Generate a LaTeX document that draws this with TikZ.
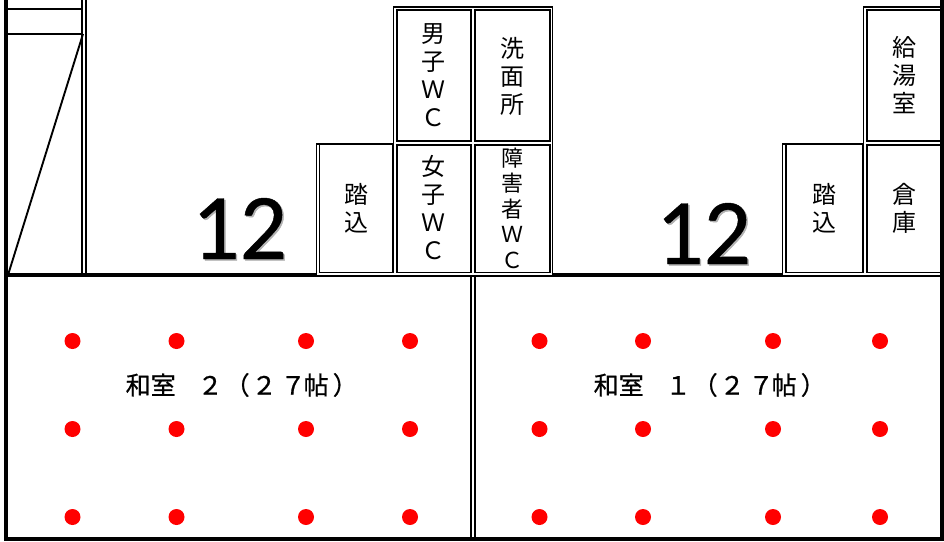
\documentclass[tikz,border=0pt]{standalone}
\usepackage{fontspec}
\setmainfont{Noto Sans CJK JP}
\newfontfamily\numfont[FakeBold=0.5]{Carlito}
\newfontfamily\roomfont[FakeBold=0.7]{Noto Sans CJK JP}
\newcommand{\roomtext}[1]{和室\kern22pt #1\kern2pt （\kern2pt ２\kern4pt ７\kern-2pt 帖\kern4pt ）}
\tikzset{
  x=1pt,y=-1pt,
  wall/.style={draw=black,line width=3.8pt},
  thin wall/.style={draw=black,line width=1.7pt},
  stair/.style={draw=black,line width=1.9pt},
  column/.style={circle,fill=red,inner sep=0pt,minimum size=16pt},
  vlabel/.style={align=center,inner sep=0pt,font=\fontsize{24}{28}\selectfont},
  roomlabel/.style={inner sep=0pt,anchor=west,font=\roomfont\fontsize{25}{28}\selectfont},
  bignum/.style={inner sep=0pt,font=\numfont\fontsize{94}{94}\selectfont},
}
\begin{document}
\begin{tikzpicture}
\useasboundingbox (0,0) rectangle (944,541);
\fill[white] (0,0) rectangle (944,541);
% outer walls
\draw[wall] (5.7,0) -- (5.7,539.2) -- (942.3,539.2) -- (942.3,0);
\draw[wall] (6,275) -- (316,275);
\draw[wall] (553,275) -- (782,275);
% stairs
\draw[thin wall] (82,0) -- (82,275);
\draw[thin wall] (86,0) -- (86,275);
\draw[stair] (7,9) -- (82,9);
\draw[stair] (7,34) -- (82,34);
\draw[stair] (8,275) -- (83,34);
% middle wall
\draw[thin wall] (471.3,276) -- (471.3,538);
\draw[thin wall] (475.3,276) -- (475.3,538);
% central block outer
\draw[thin wall] (316.5,276) -- (316.5,144) -- (393.5,144) -- (393.5,7) -- (552.5,7) -- (552.5,276) -- cycle;
% central block inner
\draw[thin wall] (319.5,144) rectangle (392.7,272.4);
\draw[thin wall] (396.9,10) rectangle (471.1,141.2);
\draw[thin wall] (475,10) rectangle (549.7,141.2);
\draw[thin wall] (396.9,144.9) rectangle (471.1,272.4);
\draw[thin wall] (475,144.9) rectangle (549.7,272.4);
% right block
\draw[thin wall] (941,276) -- (782.5,276) -- (782.5,144) -- (863.5,144) -- (863.5,7) -- (941,7);
\draw[thin wall] (785.7,144) rectangle (863.3,272.4);
\draw[thin wall] (941,10) -- (867,10) -- (867,141.2) -- (941,141.2);
\draw[thin wall] (941,144.9) -- (867,144.9) -- (867,272.4) -- (941,272.4);
% columns
\foreach \y [count=\j] in {341,429,517}{
  \foreach \x [count=\i] in {72.5,176.5,306,410,539.5,643,773,880}{
    \node[column] (c\i-\j) at (\x,\y) {};
  }
}
% labels
\node[vlabel] (mwc) at (433.5,75) {男\\子\\Ｗ\\Ｃ};
\node[vlabel] (wash) at (512,76) {洗\\面\\所};
\node[vlabel] (fwc) at (433.5,208) {女\\子\\Ｗ\\Ｃ};
\node[vlabel,font=\fontsize{22}{25.5}\selectfont] (dwc) at (512,208) {障\\害\\者\\Ｗ\\Ｃ};
\node[vlabel] (en2) at (356,208) {踏\\込};
\node[vlabel] (en1) at (824,208) {踏\\込};
\node[vlabel] (kyu) at (904,75) {給\\湯\\室};
\node[vlabel] (sou) at (904,208) {倉\\庫};
\node[roomlabel] (r2) at (125.5,385) {\roomtext{２}};
\node[roomlabel] (r1) at (593.5,385) {\roomtext{１}};
% twelve with soft shadow
\node[bignum,text=black!30] (s2) at (241,230) {12};
\node[bignum,text=black!30] (s1) at (705,235) {12};
\node[bignum] (n2) at (239.5,228.5) {12};
\node[bignum] (n1) at (703.5,233.5) {12};
\end{tikzpicture}
\end{document}
